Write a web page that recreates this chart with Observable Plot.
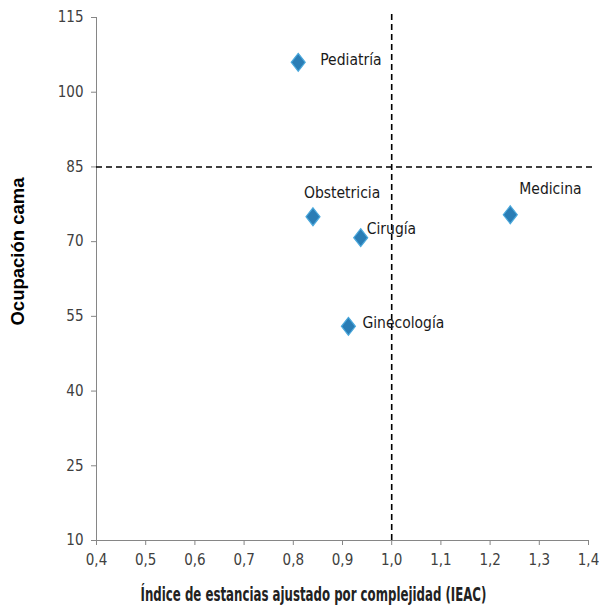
<!DOCTYPE html>
<html>
<head>
<meta charset="utf-8">
<script src="https://cdn.jsdelivr.net/npm/d3@7"></script>
<script src="https://cdn.jsdelivr.net/npm/@observablehq/plot@0.6"></script>
<style>
  html, body { margin: 0; padding: 0; background: #fff; }
  #chart { width: 599px; height: 612px; }
</style>
</head>
<body>
<div id="chart"></div>
<script>
const services = ["Pediatría", "Obstetricia", "Cirugía", "Ginecología", "Medicina"];
const ieac = [0.81, 0.84, 0.937, 0.912, 1.241];
const ocupacion = [106, 75, 70.8, 53, 75.4];
const xTicks = [0.4, 0.5, 0.6, 0.7, 0.8, 0.9, 1.0, 1.1, 1.2, 1.3, 1.4];
const yTicks = [10, 25, 40, 55, 70, 85, 100, 115];
const refX = 1.0;
const refY = 85;
const xTitle = "Índice de estancias ajustado por complejidad (IEAC)";
const yTitle = "Ocupación cama";

const data = services.map((s, i) => ({ name: s, x: ieac[i], y: ocupacion[i] }));

// label placement (pixel offsets)
const labelOffset = {
  "Pediatría": [22, -2],
  "Obstetricia": [-9, -24],
  "Cirugía": [6, -9],
  "Ginecología": [14, -3],
  "Medicina": [9, -26]
};

const diamond = {
  draw(ctx, size) {
    const r = Math.sqrt(size / Math.PI);
    const h = r * 1.6, w = r * 1.25;
    ctx.moveTo(0, -h);
    ctx.lineTo(w, 0);
    ctx.lineTo(0, h);
    ctx.lineTo(-w, 0);
    ctx.closePath();
  }
};

const font = "'Liberation Sans Narrow', 'DejaVu Sans Condensed', sans-serif";
const fmt = d => d.toFixed(1).replace(".", ",");

const plot = Plot.plot({
  width: 599,
  height: 612,
  marginLeft: 96,
  marginRight: 11,
  marginTop: 17,
  marginBottom: 72,
  style: { fontFamily: font, background: "#fff" },
  x: { domain: [0.4, 1.4] },
  y: { domain: [10, 115] },
  marks: [
    Plot.ruleX([0.4], { stroke: "#868686", strokeWidth: 1 }),
    Plot.ruleY([10], { stroke: "#868686", strokeWidth: 1 }),
    Plot.axisX({ ticks: xTicks, tickFormat: fmt, tickSize: 5, tickPadding: 9, stroke: "#868686", fill: "#404040", fontSize: 15, label: null }),
    Plot.axisY({ ticks: yTicks, tickSize: 5, tickPadding: 8, stroke: "#868686", fill: "#404040", fontSize: 15, label: null }),
    Plot.ruleY([refY], { x1: 0.4, x2: 1.41, stroke: "#000", strokeWidth: 1.6, strokeDasharray: "6,4" }),
    Plot.ruleX([refX], { y1: 10, y2: 115.6, stroke: "#000", strokeWidth: 1.6, strokeDasharray: "6,4" }),
    Plot.dot(data, { x: "x", y: "y", symbol: diamond, r: 5.6, fill: "#2a7db5", stroke: "#4aa8dc", strokeWidth: 1.2 }),
    ...services.map(s => Plot.text(data.filter(d => d.name === s), {
      x: "x", y: "y", text: "name", textAnchor: "start",
      dx: labelOffset[s][0], dy: labelOffset[s][1],
      fontSize: 15.5, fill: "#1a1a1a"
    })),
    Plot.text([xTitle], { frameAnchor: "bottom", textAnchor: "middle", dx: -29, dy: 60, fontSize: 19, fontWeight: "600", fill: "#222" }),
    Plot.text([yTitle], { frameAnchor: "left", textAnchor: "middle", dx: -78, dy: -27.5, rotate: -90, fontSize: 18.5, fontWeight: "bold", fill: "#000", fontFamily: "'Liberation Sans', Arial, sans-serif" })
  ]
});
document.getElementById("chart").appendChild(plot);
// condense the x-axis title horizontally (about its own centre) to match the narrow original typeface
plot.querySelectorAll("text").forEach(t => {
  if (t.textContent === xTitle) {
    const b = t.getBBox();
    const cx = b.x + b.width / 2, cy = b.y + b.height / 2;
    const s = 346 / b.width;
    const prev = t.getAttribute("transform") || "";
    t.setAttribute("transform", `${prev} translate(${cx},${cy}) scale(${s},1) translate(${-cx},${-cy})`);
  }
});
</script>
</body>
</html>
